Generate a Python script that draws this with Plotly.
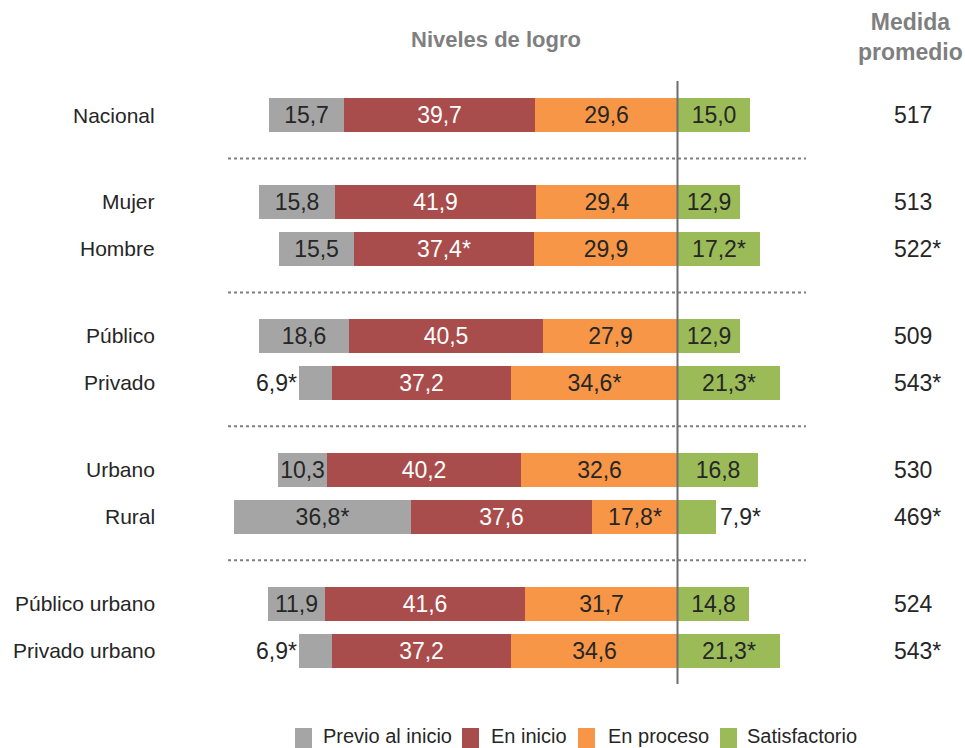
import plotly.graph_objects as go

# ---------------- data ----------------
categories = ["Nacional", "Mujer", "Hombre", "Público", "Privado",
              "Urbano", "Rural", "Público urbano", "Privado urbano"]
groups = [0, 1, 1, 2, 2, 3, 3, 4, 4]

previo = [15.7, 15.8, 15.5, 18.6, 6.9, 10.3, 36.8, 11.9, 6.9]
inicio = [39.7, 41.9, 37.4, 40.5, 37.2, 40.2, 37.6, 41.6, 37.2]
proceso = [29.6, 29.4, 29.9, 27.9, 34.6, 32.6, 17.8, 31.7, 34.6]
satisf = [15.0, 12.9, 17.2, 12.9, 21.3, 16.8, 7.9, 14.8, 21.3]

previo_lbl = ["15,7", "15,8", "15,5", "18,6", "6,9*", "10,3", "36,8*", "11,9", "6,9*"]
inicio_lbl = ["39,7", "41,9", "37,4*", "40,5", "37,2", "40,2", "37,6", "41,6", "37,2"]
proceso_lbl = ["29,6", "29,4", "29,9", "27,9", "34,6*", "32,6", "17,8*", "31,7", "34,6"]
satisf_lbl = ["15,0", "12,9", "17,2*", "12,9", "21,3*", "16,8", "7,9*", "14,8", "21,3*"]

medida = ["517", "513", "522*", "509", "543*", "530", "469*", "524", "543*"]

series_names = ["Previo al inicio", "En inicio", "En proceso", "Satisfactorio"]
colors = ["#a5a5a5", "#a84c4c", "#f79646", "#9bbb59"]

# ---------------- layout helpers ----------------
GROUP_GAP = 0.85
ypos = [i + g * GROUP_GAP for i, g in enumerate(groups)]
FONT = "Arial, Liberation Sans, sans-serif"
DARK = "#262626"
FS = 23       # value labels
FS_CAT = 21   # category labels
OUTSIDE_MAX = 9  # segments narrower than this get labels outside

fig = go.Figure()

def inside(lbls, vals):
    return [l if v >= OUTSIDE_MAX else "" for l, v in zip(lbls, vals)]

def seg(vals, lbls, sign, color, name, tcolor):
    return go.Bar(y=ypos, x=[sign * v for v in vals], orientation="h",
                  marker=dict(color=color, line_width=0), name=name,
                  text=inside(lbls, vals), textposition="inside",
                  insidetextanchor="middle",
                  textfont=dict(color=tcolor, size=FS, family=FONT),
                  width=0.72, hoverinfo="skip", cliponaxis=False)

# negative side (closest to zero first)
fig.add_trace(seg(proceso, proceso_lbl, -1, colors[2], series_names[2], DARK))
fig.add_trace(seg(inicio, inicio_lbl, -1, colors[1], series_names[1], "white"))
fig.add_trace(seg(previo, previo_lbl, -1, colors[0], series_names[0], DARK))
fig.add_trace(seg(satisf, satisf_lbl, 1, colors[3], series_names[3], DARK))

annotations = []
for i, y in enumerate(ypos):
    if previo[i] < OUTSIDE_MAX:
        left = -(previo[i] + inicio[i] + proceso[i])
        annotations.append(dict(x=left, y=y, xref="x", yref="y", text=previo_lbl[i],
                                showarrow=False, xanchor="right", xshift=0,
                                font=dict(size=FS, color=DARK, family=FONT)))
    if satisf[i] < OUTSIDE_MAX:
        annotations.append(dict(x=satisf[i], y=y, xref="x", yref="y", text=satisf_lbl[i],
                                showarrow=False, xanchor="left", xshift=2,
                                font=dict(size=FS, color=DARK, family=FONT)))
    annotations.append(dict(x=157 / 965, y=y, xref="paper", yref="y", text=categories[i],
                            showarrow=False, xanchor="right",
                            font=dict(size=FS_CAT, color=DARK, family=FONT)))
    annotations.append(dict(x=892 / 965, y=y, xref="paper", yref="y", text=medida[i],
                            showarrow=False, xanchor="left",
                            font=dict(size=FS, color=DARK, family=FONT)))

# headers
annotations.append(dict(x=496 / 965, y=1 - 40 / 748, xref="paper", yref="paper",
                        text="<b>Niveles de logro</b>", showarrow=False,
                        xanchor="center", yanchor="middle",
                        font=dict(size=22, color="#7f7f7f", family=FONT)))
annotations.append(dict(x=910 / 965, y=1 - 37 / 748, xref="paper", yref="paper",
                        text="<b>Medida<br>promedio</b>", showarrow=False,
                        xanchor="center", yanchor="middle",
                        font=dict(size=23, color="#7f7f7f", family=FONT)))

# manual legend
legend_items = [(295, 321), (462, 489), (578, 606), (720, 745)]
shapes = []
for (sx, tx), name, col in zip(legend_items, series_names, colors):
    shapes.append(dict(type="rect", xref="paper", yref="paper",
                       x0=sx / 965, x1=(sx + 17) / 965,
                       y0=0, y1=1 - 728 / 748,
                       fillcolor=col, line_width=0))
    annotations.append(dict(x=tx / 965, y=1 - 736 / 748, xref="paper", yref="paper",
                            text=name, showarrow=False, xanchor="left", yanchor="middle",
                            font=dict(size=20, color=DARK, family=FONT)))

# separators between groups
for i in range(len(ypos) - 1):
    if groups[i] != groups[i + 1]:
        ym = (ypos[i] + ypos[i + 1]) / 2
        shapes.append(dict(type="line", xref="paper", yref="y",
                           x0=228 / 965, x1=806 / 965, y0=ym, y1=ym,
                           line=dict(color="#7f7f7f", width=2, dash="dot")))

# zero line
shapes.append(dict(type="line", xref="x", yref="paper", x0=0, x1=0,
                   y0=1 - 684 / 748, y1=1 - 81 / 748,
                   line=dict(color="#6d6d6d", width=2), layer="above"))

SCALE = 4.81  # px per percentage point
ZERO_PX = 677.5
ROW_PX = 47
FIRST_ROW_PX = 115

fig.update_layout(
    width=965, height=748,
    margin=dict(l=0, r=0, t=0, b=0),
    paper_bgcolor="white", plot_bgcolor="white",
    barmode="relative", bargap=0,
    showlegend=False,
    uniformtext=dict(minsize=FS, mode="show"),
    xaxis=dict(range=[-ZERO_PX / SCALE, (965 - ZERO_PX) / SCALE], visible=False,
               fixedrange=True),
    yaxis=dict(range=[(748 - FIRST_ROW_PX) / ROW_PX, -FIRST_ROW_PX / ROW_PX],
               visible=False, fixedrange=True),
    annotations=annotations,
    shapes=shapes,
    font=dict(family=FONT),
)

fig.write_html("out.html", config={"displayModeBar": False},
               post_script="document.body.style.margin='0';document.body.style.overflow='hidden';")
